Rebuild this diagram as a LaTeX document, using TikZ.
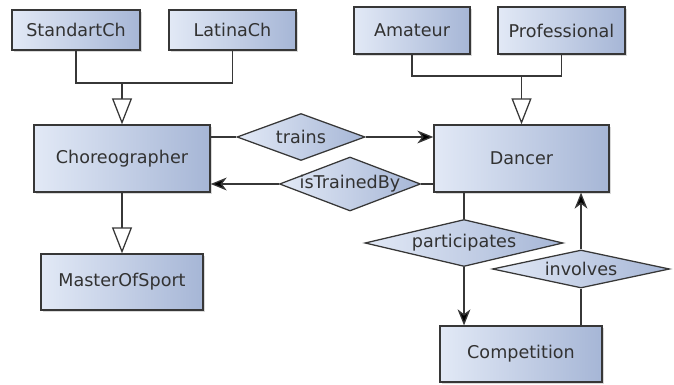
\documentclass[tikz,border=0pt]{standalone}
\usepackage{fontspec}
\setmainfont{DejaVu Sans}
\usetikzlibrary{shapes.geometric,shadows,arrows.meta}

\definecolor{boxlight}{RGB}{226,233,246}
\definecolor{boxdark}{RGB}{166,182,214}
\definecolor{linegray}{RGB}{55,55,55}
\definecolor{textgray}{RGB}{50,50,50}

\tikzset{
    entity/.style={rectangle, draw=linegray, line width=0.9pt, inner sep=0pt,
        left color=boxlight, right color=boxdark,
        drop shadow={shadow xshift=1.5pt, shadow yshift=-1.5pt, opacity=0.3}},
    relation/.style={diamond, draw=linegray, line width=0.9pt, inner sep=0pt,
        left color=boxlight, right color=boxdark},
    link/.style={draw=linegray, line width=0.9pt},
    isa/.style={link, -{Triangle[open, width=0.5cm, length=0.65cm]}},
    flow/.style={link, -{Stealth[width=0.32cm, length=0.4cm, inset=0.12cm, fill=black]}}
}

\begin{document}
\begin{tikzpicture}[x=0.025cm, y=-0.025cm, text=textgray, font=\fontsize{12.5}{15}\selectfont]
    \useasboundingbox (0,0) rectangle (674,385);

    \node[entity, minimum width=3.2cm, minimum height=1cm] (std) at (76,30) {StandartCh};
    \node[entity, minimum width=3.175cm, minimum height=1cm] (lat) at (232.5,30) {LatinaCh};
    \node[entity, minimum width=2.9cm, minimum height=1.175cm] (ama) at (412,30.5) {Amateur};
    \node[entity, minimum width=3.175cm, minimum height=1.175cm] (pro) at (561.5,30.5) {Professional};
    \node[entity, minimum width=4.4cm, minimum height=1.675cm] (cho) at (122,158.5) {Choreographer};
    \node[entity, minimum width=4.05cm, minimum height=1.4cm] (mos) at (122,282) {MasterOfSport};
    \node[entity, minimum width=4.375cm, minimum height=1.675cm] (dan) at (521.5,158.5) {Dancer};
    \node[entity, minimum width=4.05cm, minimum height=1.4cm] (com) at (521,354) {Competition};

    \node[relation, minimum width=3.2cm, minimum height=1.175cm, label=center:trains] (trn) at (301,137) {};
    \node[relation, minimum width=3.525cm, minimum height=1.35cm, label=center:isTrainedBy] (itb) at (350,184) {};
    \node[relation, minimum width=4.95cm, minimum height=1.175cm, label=center:participates] (par) at (464,243) {};
    \node[relation, minimum width=4.425cm, minimum height=0.95cm, label=center:involves] (inv) at (581,269) {};

    % generalisations
    \coordinate (chojoin) at (122,83);
    \coordinate (danjoin) at (521.5,76);
    \draw[link] (std.south) |- (lat.south |- chojoin) -- (lat.south);
    \draw[isa] (chojoin) -- (cho.north);
    \draw[link] (ama.south) |- (pro.south |- danjoin) -- (pro.south);
    \draw[isa] (danjoin) -- (dan.north);
    \draw[isa] (cho.south) -- (mos.north);

    % relations
    \draw[link] (cho.east |- trn.west) -- (trn.west);
    \draw[flow] (trn.east) -- (dan.west |- trn.east);
    \draw[link] (dan.west |- itb.east) -- (itb.east);
    \draw[flow] (itb.west) -- (cho.east |- itb.west);
    \draw[link] (dan.south -| par.north) -- (par.north);
    \draw[flow] (par.south) -- (com.north -| par.south);
    \draw[link] (com.north -| inv.south) -- (inv.south);
    \draw[flow] (inv.north) -- (dan.south -| inv.north);
\end{tikzpicture}
\end{document}
